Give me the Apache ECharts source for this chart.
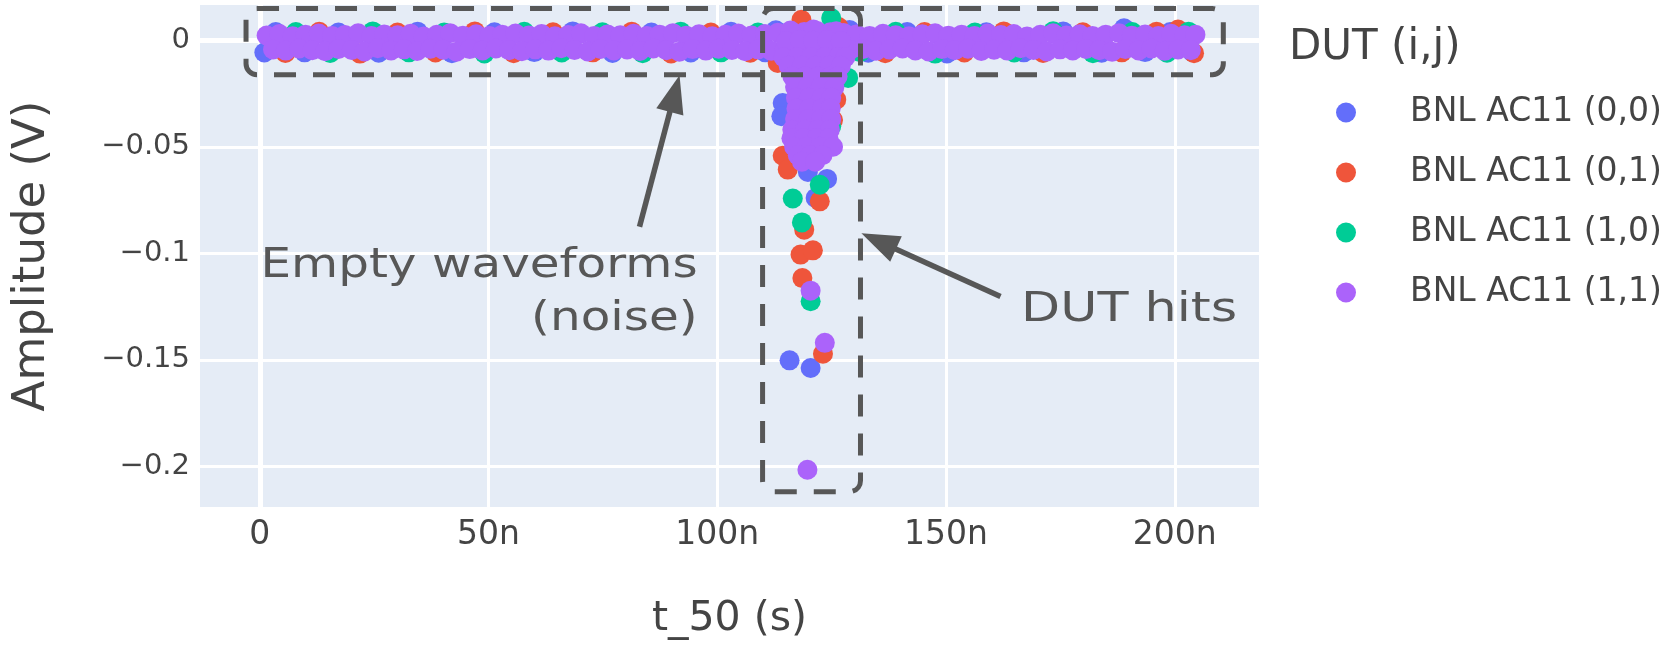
<!DOCTYPE html>
<html>
<head>
<meta charset="utf-8">
<script src="https://cdn.jsdelivr.net/npm/echarts@6/dist/echarts.min.js"></script>
<style>
  html, body { margin: 0; padding: 0; background: #ffffff; }
  #chart { width: 1672px; height: 649px; }
</style>
</head>
<body>
<div id="chart"></div>
<script>
// t_50 in nanoseconds, amplitude in volts, one list of [t_50, amplitude] per DUT pad
const seriesNames = ['BNL AC11 (0,0)', 'BNL AC11 (0,1)', 'BNL AC11 (1,0)', 'BNL AC11 (1,1)'];
const seriesColors = ['#636efa', '#EF553B', '#00cc96', '#ab63fa'];

const pad00 = [
  [1.0,-0.0058],[3.5,0.0038],[9.8,-0.0057],[17.2,0.0036],[26.0,-0.0059],[34.5,0.0040],[42.0,-0.0061],
  [51.3,0.0037],[60.0,-0.0056],[68.4,0.0041],[77.1,-0.0060],[85.6,0.0036],[94.2,-0.0058],[103.0,0.0039],
  [110.5,-0.0057],[112.8,0.0046],[128.9,0.0048],[133.0,-0.0059],[141.5,0.0038],[150.2,-0.0062],[158.8,0.0037],
  [167.0,-0.0057],[175.6,0.0041],[184.0,-0.0059],[188.9,0.0056],[193.5,-0.0056],[199.0,0.0038],[203.8,-0.0055],
  [114.3,-0.0295],[114.0,-0.0357],[119.8,-0.0618],[124.0,-0.0651],[121.5,-0.0740],[115.8,-0.1502],[120.4,-0.1538]
];
const pad01 = [
  [5.6,-0.0060],[13.0,0.0039],[21.9,-0.0063],[30.1,0.0036],[38.4,-0.0058],[47.0,0.0041],[55.5,-0.0061],
  [64.1,0.0037],[72.8,-0.0057],[81.3,0.0040],[89.9,-0.0062],[98.6,0.0036],[107.2,-0.0059],[118.4,0.0096],
  [126.5,0.0062],[136.7,-0.0061],[145.3,0.0038],[154.0,-0.0058],[162.6,0.0041],[171.2,-0.0060],[179.9,0.0037],
  [188.4,-0.0057],[196.0,0.0040],[200.7,0.0050],[204.2,-0.0061],
  [113.2,-0.0107],[126.0,-0.0279],[125.3,-0.0375],[114.3,-0.0542],[115.4,-0.0607],[122.4,-0.0756],
  [119.0,-0.0889],[118.2,-0.1006],[120.9,-0.0986],[118.6,-0.1116],[123.1,-0.1471]
];
const pad10 = [
  [7.9,0.0038],[15.4,-0.0060],[24.7,0.0041],[32.6,-0.0057],[40.3,0.0036],[49.1,-0.0062],[57.8,0.0039],
  [66.0,-0.0058],[74.9,0.0037],[83.7,-0.0061],[92.0,0.0040],[100.8,-0.0057],[108.9,0.0036],[124.9,0.0104],
  [131.2,-0.0056],[139.0,0.0039],[147.6,-0.0063],[156.3,0.0036],[164.9,-0.0058],[173.4,0.0042],[182.1,-0.0061],
  [190.7,0.0038],[198.3,-0.0059],[203.0,0.0040],
  [128.6,-0.0177],[124.9,-0.0404],[119.5,-0.0467],[122.4,-0.0678],[116.5,-0.0743],[118.5,-0.0855],[120.4,-0.1225]
];
const pad11 = [
  // noise band, upper half
  [1.5,0.0022],[4.3,0.0029],[7.2,0.0018],[10.0,0.0026],[12.9,0.0031],[15.8,0.0020],[18.6,0.0024],[21.5,0.0032],
  [24.4,0.0019],[27.2,0.0027],[30.1,0.0023],[33.0,0.0030],[35.8,0.0017],[38.7,0.0025],[41.6,0.0033],[44.4,0.0021],
  [47.3,0.0028],[50.2,0.0019],[53.0,0.0026],[55.9,0.0031],[58.8,0.0022],[61.6,0.0029],[64.5,0.0018],[67.4,0.0024],
  [70.2,0.0032],[73.1,0.0020],[76.0,0.0027],[78.8,0.0023],[81.7,0.0030],[84.6,0.0019],[87.4,0.0026],[90.3,0.0033],
  [93.2,0.0021],[96.0,0.0028],[98.9,0.0018],[101.8,0.0025],[104.6,0.0031],[107.5,0.0022],[110.4,0.0029],[113.2,0.0035],
  [116.1,0.0040],[119.0,0.0038],[121.8,0.0043],[124.7,0.0037],[127.6,0.0034],[130.4,0.0027],[133.3,0.0020],[136.2,0.0030],
  [139.0,0.0023],[141.9,0.0018],[144.8,0.0028],[147.6,0.0032],[150.5,0.0021],[153.4,0.0026],[156.2,0.0019],[159.1,0.0031],
  [162.0,0.0024],[164.8,0.0029],[167.7,0.0017],[170.6,0.0025],[173.4,0.0032],[176.3,0.0022],[179.2,0.0028],[182.0,0.0020],
  [184.9,0.0026],[187.8,0.0033],[190.6,0.0021],[193.5,0.0027],[196.4,0.0019],[199.2,0.0030],[202.1,0.0023],[204.5,0.0026],
  // noise band, lower half
  [2.9,-0.0044],[5.7,-0.0049],[8.6,-0.0039],[11.5,-0.0047],[14.3,-0.0052],[17.2,-0.0041],[20.1,-0.0046],[22.9,-0.0053],
  [25.8,-0.0038],[28.7,-0.0048],[31.5,-0.0043],[34.4,-0.0051],[37.3,-0.0040],[40.1,-0.0045],[43.0,-0.0054],[45.9,-0.0042],
  [48.7,-0.0048],[51.6,-0.0039],[54.5,-0.0047],[57.3,-0.0052],[60.2,-0.0043],[63.1,-0.0049],[65.9,-0.0038],[68.8,-0.0046],
  [71.7,-0.0053],[74.5,-0.0041],[77.4,-0.0048],[80.3,-0.0044],[83.1,-0.0051],[86.0,-0.0039],[88.9,-0.0047],[91.7,-0.0054],
  [94.6,-0.0042],[97.5,-0.0049],[100.3,-0.0040],[103.2,-0.0046],[106.1,-0.0052],[108.9,-0.0043],[111.8,-0.0050],[114.7,-0.0047],
  [117.5,-0.0044],[120.4,-0.0048],[123.3,-0.0045],[126.1,-0.0049],[129.0,-0.0046],[131.9,-0.0041],[134.7,-0.0050],[137.6,-0.0044],
  [140.5,-0.0039],[143.3,-0.0048],[146.2,-0.0053],[149.1,-0.0042],[151.9,-0.0047],[154.8,-0.0040],[157.7,-0.0051],[160.5,-0.0045],
  [163.4,-0.0049],[166.3,-0.0038],[169.1,-0.0046],[172.0,-0.0053],[174.9,-0.0043],[177.7,-0.0048],[180.6,-0.0041],[183.5,-0.0047],
  [186.3,-0.0054],[189.2,-0.0042],[192.1,-0.0048],[194.9,-0.0039],[197.8,-0.0050],[200.7,-0.0044],[203.5,-0.0047],
  // hits
  [116.0,0.0045],[121.0,0.0050],[126.0,0.0042],
  [115.0,-0.0005],[118.0,0.0002],[121.0,-0.0003],[124.0,0.0001],[127.0,-0.0004],
  [114.5,-0.008],[117.5,-0.008],[120.5,-0.008],[123.5,-0.008],[126.5,-0.008],[128.0,-0.008],
  [115.6,-0.012],[118.5,-0.012],[121.5,-0.012],[124.5,-0.012],[127.0,-0.012],
  [116.4,-0.017],[119.2,-0.017],[122.0,-0.017],[124.8,-0.017],[126.3,-0.017],
  [117.0,-0.022],[119.8,-0.022],[122.6,-0.022],[125.6,-0.022],
  [117.2,-0.027],[120.0,-0.027],[122.8,-0.027],[124.9,-0.027],
  [117.3,-0.032],[120.1,-0.032],[122.9,-0.032],[124.8,-0.032],
  [117.0,-0.037],[119.9,-0.037],[122.7,-0.037],[124.9,-0.037],
  [116.4,-0.042],[119.2,-0.042],[122.0,-0.042],[124.6,-0.042],
  [116.2,-0.046],[118.9,-0.046],[121.7,-0.046],[124.3,-0.046],
  [116.8,-0.050],[119.6,-0.050],[122.4,-0.050],[125.3,-0.050],
  [117.6,-0.054],[120.4,-0.054],[123.0,-0.054],
  [118.5,-0.057],[121.4,-0.057],
  [120.4,-0.1175],[123.5,-0.1420],[119.7,-0.2015]
];
const seriesData = [pad00, pad01, pad10, pad11];

// axis ranges and tick spacing
const tRange = [-13.06, 218.4];
const tStep = 50;
const ampRange = [-0.219, 0.0165];
const ampStep = 0.05;

// annotation regions and arrows, in axis units
const noiseBox = { t: [-3.0, 210.6], amp: [0.0148, -0.0162] };
const hitsBox = { t: [109.9, 131.3], amp: [0.0148, -0.2118] };
const noiseArrow = { from: [83.0, -0.0875], to: [91.75, -0.0164] };
const hitsArrow = { from: [161.9, -0.1203], to: [131.5, -0.0906] };
const noiseLabel = { at: [95.7, -0.1062], lines: ['Empty waveforms', '(noise)'] };
const hitsLabel = { at: [166.4, -0.127], text: 'DUT hits' };

const FONT = '"DejaVu Sans", "Noto Sans", sans-serif';
const INK = '#444444';
const NOTE = '#575757';

const fmtAmp = v => {
  const r = Math.round(v * 1000) / 1000;
  if (r === 0) return '0';
  return (r < 0 ? '\u2212' : '') + String(Math.abs(r));
};
const fmtT = v => {
  const r = Math.round(v);
  return r === 0 ? '0' : r + 'n';
};

const chart = echarts.init(document.getElementById('chart'), null, { renderer: 'canvas' });

const series = seriesNames.map((name, i) => ({
  name,
  type: 'scatter',
  data: seriesData[i],
  symbolSize: 20,
  itemStyle: { color: seriesColors[i], opacity: 1 },
  emphasis: { disabled: true },
  z: 2
}));
// thicker zero lines
series[0].markLine = {
  silent: true,
  z: 1,
  symbol: 'none',
  label: { show: false },
  lineStyle: { color: '#ffffff', width: 5, type: 'solid', opacity: 1 },
  emphasis: { disabled: true },
  data: [{ xAxis: 0 }, { yAxis: 0 }]
};

chart.setOption({
  backgroundColor: '#ffffff',
  animation: false,
  textStyle: { fontFamily: FONT },
  title: {
    text: 'DUT (i,j)',
    left: 1289,
    top: 27,
    padding: 0,
    textStyle: { fontFamily: FONT, fontSize: 42, fontWeight: 'normal', color: INK }
  },
  legend: {
    data: seriesNames,
    orient: 'vertical',
    left: 1336,
    top: 95,
    padding: 0,
    itemWidth: 20,
    itemHeight: 20,
    itemGap: 25,
    icon: 'circle',
    selectedMode: false,
    textStyle: { fontFamily: FONT, fontSize: 33, color: INK, padding: [0, 0, 0, 49], lineHeight: 35 }
  },
  grid: {
    left: 200,
    right: 413,
    top: 5,
    bottom: 142,
    show: true,
    backgroundColor: '#E5ECF6',
    borderWidth: 0
  },
  xAxis: {
    type: 'value',
    min: tRange[0],
    max: tRange[1],
    minInterval: tStep,
    maxInterval: tStep,
    name: 't_50 (s)',
    nameLocation: 'middle',
    nameGap: 92,
    nameTextStyle: { fontFamily: FONT, fontSize: 41, color: INK },
    axisLine: { show: false },
    axisTick: { show: false },
    axisLabel: {
      formatter: fmtT,
      fontFamily: FONT,
      fontSize: 33,
      color: INK,
      margin: 12,
      showMinLabel: false,
      showMaxLabel: false
    },
    splitLine: {
      show: true,
      showMinLine: false,
      showMaxLine: false,
      lineStyle: { color: '#ffffff', width: 3 }
    }
  },
  yAxis: {
    type: 'value',
    min: ampRange[0],
    max: ampRange[1],
    minInterval: ampStep,
    maxInterval: ampStep,
    name: 'Amplitude (V)',
    nameLocation: 'middle',
    nameGap: 145,
    nameTextStyle: { fontFamily: FONT, fontSize: 45, color: INK },
    axisLine: { show: false },
    axisTick: { show: false },
    axisLabel: {
      formatter: fmtAmp,
      fontFamily: FONT,
      fontSize: 29,
      color: INK,
      margin: 10,
      showMinLabel: false,
      showMaxLabel: false
    },
    splitLine: {
      show: true,
      showMinLine: false,
      showMaxLine: false,
      lineStyle: { color: '#ffffff', width: 3 }
    }
  },
  series
});

// annotations placed through the axes
const toPx = p => chart.convertToPixel({ gridIndex: 0 }, p);

function dashedBox(box) {
  const a = toPx([box.t[0], box.amp[0]]);
  const b = toPx([box.t[1], box.amp[1]]);
  return {
    type: 'rect',
    silent: true,
    z: 10,
    shape: { x: a[0], y: a[1], width: b[0] - a[0], height: b[1] - a[1], r: 11 },
    style: { fill: 'none', stroke: NOTE, lineWidth: 5, lineDash: [22, 17] }
  };
}

function arrow(spec) {
  const p0 = toPx(spec.from);
  const p1 = toPx(spec.to);
  const dx = p1[0] - p0[0], dy = p1[1] - p0[1];
  const len = Math.hypot(dx, dy);
  const ux = dx / len, uy = dy / len;
  const headLen = 38, headHalf = 14;
  const bx = p1[0] - ux * headLen, by = p1[1] - uy * headLen;
  return [
    {
      type: 'line', silent: true, z: 10,
      shape: { x1: p0[0], y1: p0[1], x2: bx + ux * 4, y2: by + uy * 4 },
      style: { stroke: NOTE, lineWidth: 5.5 }
    },
    {
      type: 'polygon', silent: true, z: 10,
      shape: { points: [[p1[0], p1[1]], [bx - uy * headHalf, by + ux * headHalf], [bx + uy * headHalf, by - ux * headHalf]] },
      style: { fill: NOTE }
    }
  ];
}

const nl = toPx(noiseLabel.at);
const hl = toPx(hitsLabel.at);
const lineGap = toPx([0, -0.1312])[1] - toPx([0, -0.1062])[1];

chart.setOption({
  graphic: [
    dashedBox(noiseBox),
    dashedBox(hitsBox),
    ...arrow(noiseArrow),
    ...arrow(hitsArrow),
    {
      type: 'text', silent: true, z: 11, x: nl[0], y: nl[1], scaleX: 1.21,
      style: { text: noiseLabel.lines[0], font: '40px ' + FONT, fill: NOTE, align: 'right', verticalAlign: 'middle' }
    },
    {
      type: 'text', silent: true, z: 11, x: nl[0], y: nl[1] + lineGap, scaleX: 1.21,
      style: { text: noiseLabel.lines[1], font: '40px ' + FONT, fill: NOTE, align: 'right', verticalAlign: 'middle' }
    },
    {
      type: 'text', silent: true, z: 11, x: hl[0], y: hl[1], scaleX: 1.27,
      style: { text: hitsLabel.text, font: '40px ' + FONT, fill: NOTE, align: 'left', verticalAlign: 'middle' }
    }
  ]
});
</script>
</body>
</html>
